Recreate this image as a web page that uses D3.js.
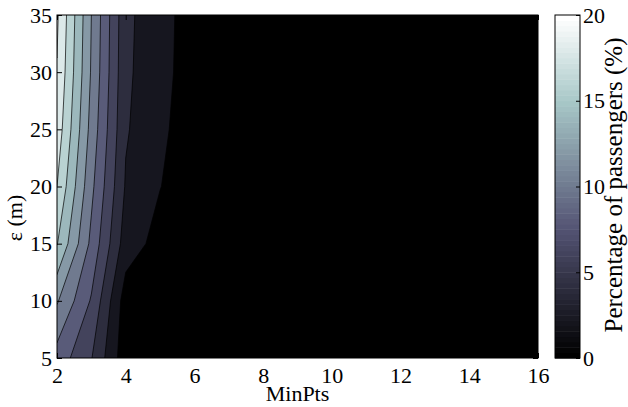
<!DOCTYPE html>
<html>
<head>
<meta charset="utf-8">
<script src="https://cdn.jsdelivr.net/npm/d3@7"></script>
<style>
  body { margin: 0; background: #fff; }
  text { font-family: "Liberation Serif", "Times New Roman", serif; fill: #000; }
</style>
</head>
<body>
<svg width="628" height="407"></svg>
<script>
// grid of the contour plot
const minPts = [2, 3, 4, 5, 6, 7, 8, 9, 10, 11, 12, 13, 14, 15, 16];
const epsilons = [5, 10, 15, 20, 25, 30, 35];

// percentage of passengers, one array per epsilon row
const pctEps5  = [9.2, 6.1, 0.7, 0.3, 0.1, 0, 0, 0, 0, 0, 0, 0, 0, 0, 0];
const pctEps10 = [12.2, 7.8, 1.0, 0.4, 0.1, 0, 0, 0, 0, 0, 0, 0, 0, 0, 0];
const pctEps15 = [16.1, 9.5, 3.0, 1.3, 0.5, 0.1, 0, 0, 0, 0, 0, 0, 0, 0, 0];
const pctEps20 = [18.0, 10.5, 3.8, 2.05, 0.8, 0.3, 0, 0, 0, 0, 0, 0, 0, 0, 0];
const pctEps25 = [19.2, 11.3, 4.2, 2.4, 0.9, 0.3, 0, 0, 0, 0, 0, 0, 0, 0, 0];
const pctEps30 = [19.9, 11.8, 4.4, 2.55, 1.15, 0.4, 0, 0, 0, 0, 0, 0, 0, 0, 0];
const pctEps35 = [20.3, 12.0, 4.5, 2.6, 1.2, 0.4, 0, 0, 0, 0, 0, 0, 0, 0, 0];

const levels = [0, 2, 4, 6, 8, 10, 12, 14, 16, 18, 20];
const xTicks = [2, 4, 6, 8, 10, 12, 14, 16];
const yTicks = [5, 10, 15, 20, 25, 30, 35];
const cbTicks = [0, 5, 10, 15, 20];

const rows = [pctEps5, pctEps10, pctEps15, pctEps20, pctEps25, pctEps30, pctEps35];
const grid = rows.flat();

const PLOT = { left: 57, right: 538, top: 15, bottom: 358 };
const CBAR = { left: 555, right: 580 };
const CMAX = 20;

const svg = d3.select('svg');

const x = d3.scaleLinear().domain([2, 16]).range([PLOT.left, PLOT.right]);
const y = d3.scaleLinear().domain([5, 35]).range([PLOT.bottom, PLOT.top]);

// matlab "bone" colormap
function bone(t) {
    t = Math.max(0, Math.min(1, t));
    const hr = Math.min(1, t / 0.375);
    const hg = Math.max(0, Math.min(1, (t - 0.375) / 0.375));
    const hb = Math.max(0, Math.min(1, (t - 0.75) / 0.25));
    return d3.rgb(255 * (7 * t + hb) / 8, 255 * (7 * t + hg) / 8, 255 * (7 * t + hr) / 8);
}

svg.append('defs').append('clipPath').attr('id', 'plotclip')
    .append('rect')
    .attr('x', PLOT.left).attr('y', PLOT.top)
    .attr('width', PLOT.right - PLOT.left).attr('height', PLOT.bottom - PLOT.top);

// grid cell centers sit at index + 0.5 in d3.contours space
const stepX = minPts[1] - minPts[0];
const stepY = epsilons[1] - epsilons[0];
const proj = d3.geoTransform({
    point: function (gx, gy) {
        this.stream.point(x(minPts[0] + (gx - 0.5) * stepX), y(epsilons[0] + (gy - 0.5) * stepY));
    }
});
const path = d3.geoPath(proj);

const contours = d3.contours()
    .size([minPts.length, epsilons.length])
    .thresholds(levels)(grid);

svg.append('g')
    .attr('clip-path', 'url(#plotclip)')
    .selectAll('path')
    .data(contours)
    .enter()
    .append('path')
    .attr('d', path)
    .attr('fill', (d) => bone(d.value / CMAX))
    .attr('stroke', '#000')
    .attr('stroke-width', 0.7)
    .attr('stroke-linejoin', 'round');

// axes, ticks inside like matlab
const axisFont = 22;
svg.append('g')
    .attr('transform', `translate(0, ${PLOT.bottom})`)
    .call(d3.axisBottom(x).tickValues(xTicks).tickSize(-5).tickPadding(9));
svg.append('g')
    .attr('transform', `translate(${PLOT.left}, 0)`)
    .call(d3.axisLeft(y).tickValues(yTicks).tickSize(-5).tickPadding(5));
svg.append('g')
    .attr('transform', `translate(0, ${PLOT.top})`)
    .call(d3.axisTop(x).tickValues(xTicks).tickSize(-5).tickFormat(''));
svg.append('g')
    .attr('transform', `translate(${PLOT.right}, 0)`)
    .call(d3.axisRight(y).tickValues(yTicks).tickSize(-5).tickFormat(''));

svg.selectAll('.domain').remove();
svg.selectAll('.tick line').attr('stroke', '#000');
svg.selectAll('.tick text').style('font-size', axisFont + 'px').style('font-family', '"Liberation Serif", serif');

svg.append('rect')
    .attr('x', PLOT.left).attr('y', PLOT.top)
    .attr('width', PLOT.right - PLOT.left).attr('height', PLOT.bottom - PLOT.top)
    .attr('fill', 'none').attr('stroke', '#000').attr('stroke-width', 1);

svg.append('text')
    .attr('x', (PLOT.left + PLOT.right) / 2)
    .attr('y', 401)
    .attr('text-anchor', 'middle')
    .style('font-size', axisFont + 'px')
    .text('MinPts');

svg.append('text')
    .attr('transform', 'translate(22, 218) rotate(-90)')
    .attr('text-anchor', 'middle')
    .style('font-size', axisFont + 'px')
    .text('ε (m)');

// colorbar
const cy = d3.scaleLinear().domain([0, CMAX]).range([PLOT.bottom, PLOT.top]);
const nColors = 64;
const cbar = svg.append('g');
cbar.selectAll('rect')
    .data(d3.range(nColors))
    .enter()
    .append('rect')
    .attr('x', CBAR.left)
    .attr('width', CBAR.right - CBAR.left)
    .attr('y', (i) => cy((i + 1) * CMAX / nColors))
    .attr('height', (i) => cy(i * CMAX / nColors) - cy((i + 1) * CMAX / nColors) + 0.5)
    .attr('fill', (i) => bone(i / (nColors - 1)));

cbar.append('rect')
    .attr('x', CBAR.left).attr('y', PLOT.top)
    .attr('width', CBAR.right - CBAR.left).attr('height', PLOT.bottom - PLOT.top)
    .attr('fill', 'none').attr('stroke', '#000').attr('stroke-width', 1);

const cbAxis = svg.append('g')
    .attr('transform', `translate(${CBAR.right}, 0)`)
    .call(d3.axisRight(cy).tickValues(cbTicks).tickSize(-4).tickPadding(3));
cbAxis.select('.domain').remove();
cbAxis.selectAll('.tick line').attr('stroke', '#000');
cbAxis.selectAll('.tick text').style('font-size', axisFont + 'px').style('font-family', '"Liberation Serif", serif');

svg.append('text')
    .attr('transform', 'translate(622, 185) rotate(-90)')
    .attr('text-anchor', 'middle')
    .style('font-size', '25px')
    .text('Percentage of passengers (%)');
</script>
</body>
</html>
